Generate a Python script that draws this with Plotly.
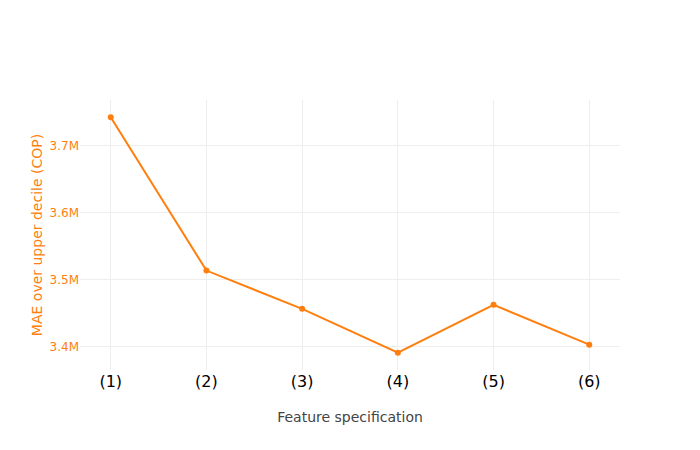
import plotly.graph_objects as go

categories = ["(1)", "(2)", "(3)", "(4)", "(5)", "(6)"]
mae_values = [3742000, 3513500, 3456500, 3391000, 3462500, 3403000]

orange = "#ff7f0e"

fig = go.Figure()
fig.add_trace(go.Scatter(
    x=categories, y=mae_values, mode="lines+markers",
    line=dict(color=orange, width=2),
    marker=dict(color=orange, size=6),
))
fig.update_layout(
    template="none",
    width=700, height=450,
    margin=dict(l=72, r=88, t=92, b=88),
    font=dict(family="DejaVu Sans, Verdana, sans-serif", color="#444"),
    showlegend=False,
    xaxis=dict(
        title=dict(text="Feature specification", font=dict(size=14, color="#444")),
        tickfont=dict(size=16, color="black"),
        showgrid=True, gridcolor="#eee", zeroline=False, showline=False,
    ),
    yaxis=dict(
        title=dict(text="MAE over upper decile (COP)", font=dict(size=14, color=orange)),
        tickfont=dict(size=12, color=orange),
        showgrid=True, gridcolor="#eee", zeroline=False, showline=False,
        tickformat="~s",
    ),
    plot_bgcolor="white", paper_bgcolor="white",
)
fig.write_html("out.html")
